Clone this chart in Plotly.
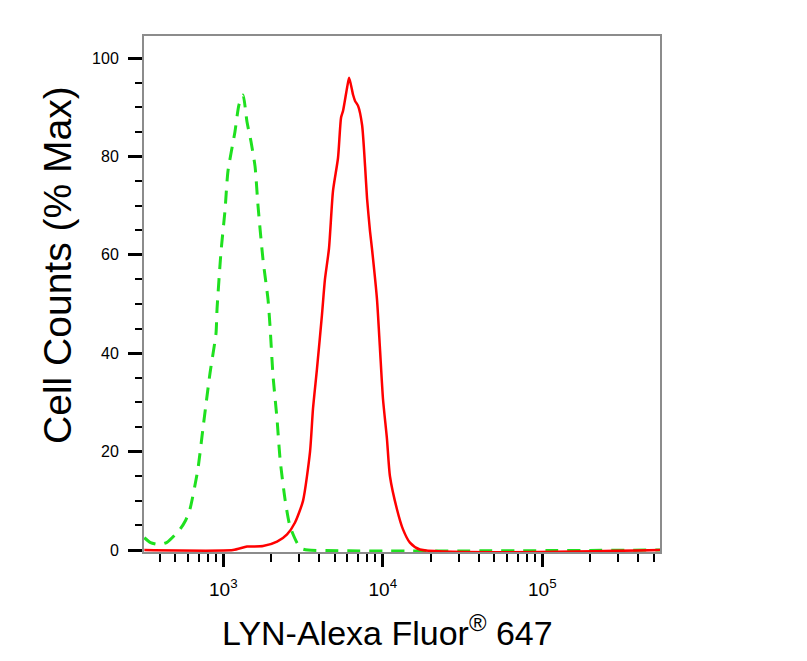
"""
Flow cytometry overlay: LYN-Alexa Fluor 647 staining vs isotype control.
"""

import plotly.graph_objects as go


# Isotype control (green dashed), fluorescence intensity and % of max.
CONTROL_X = [
    320, 350, 400, 445, 535, 580, 618, 693, 745, 826, 900, 914, 968, 1025,
    1070, 1183, 1254, 1330, 1409, 1493, 1582, 1651, 1775, 1907, 1963, 2051,
    2173, 2270, 2439, 2620, 2898, 3100, 3400, 550000,
]
CONTROL_Y = [
    2.5, 1.5, 1.1, 1.6, 4.2, 6.0, 8.3, 16.4, 24.6, 36.0, 44.0, 49.0, 60.7, 69.0,
    77.0, 85.0, 90.5, 92.5, 87.0, 83.0, 78.0, 70.0, 59.0, 51.0, 45.6, 35.4,
    26.6, 18.5, 10.3, 4.8, 1.5, 0.3, 0.0, 0.0,
]

# LYN stained sample (red).
LYN_X = [
    320, 1150, 1409, 1775, 2173, 2512, 2818, 3162, 3499, 3651, 3866, 4154,
    4339, 4600, 4874, 5240, 5474, 5637, 5973, 6152, 6518, 6702, 7001, 7418,
    7746, 7967, 8318, 8554, 9195, 9600, 10030, 10620, 11090, 12270, 13390,
    14800, 17100, 550000,
]
LYN_Y = [
    0.0, 0.0, 0.7, 0.8, 1.7, 3.2, 5.6, 10.0, 20.0, 28.7, 36.8, 47.7,
    55.0, 61.3, 73.0, 79.7, 87.9, 89.3, 94.0, 96.0, 92.5, 91.3, 90.3, 86.4,
    78.0, 71.5, 64.8, 61.3, 51.0, 41.0, 30.7, 22.6, 15.0, 8.3, 4.2,
    1.5, 0.1, 0.0,
]

# Tick labels.
X_TICKS = [1e3, 1e4, 1e5]
X_TICK_TEXT = ["10<sup>3</sup>", "10<sup>4</sup>", "10<sup>5</sup>"]
Y_TICKS = [0, 20, 40, 60, 80, 100]
Y_TICK_TEXT = ["0", "20", "40", "60", "80", "100"]

FONT = "Liberation Sans, Arial"


def main():
    fig = go.Figure()

    # Control goes first so the red line sits on top of it.
    fig.add_trace(
        go.Scatter(
            x=CONTROL_X,
            y=CONTROL_Y,
            mode="lines",
            line_color="#1fe01f",
            line_width=3,
            line_dash="13px,9px",
            line_shape="spline",
            line_smoothing=0.6,
        )
    )

    fig.add_trace(
        go.Scatter(
            x=LYN_X,
            y=LYN_Y,
            mode="lines",
            line_color="#ff0000",
            line_width=2.5,
            line_shape="spline",
            line_smoothing=0.6,
        )
    )

    # Minor ticks at 2..9 of every decade shown.
    minor_x = [m * 10**d for d in range(2, 6) for m in range(2, 10)]
    minor_x = [v for v in minor_x if 320 < v < 550000]

    fig.update_xaxes(
        type="log",
        range=[2.503, 5.738],
        tickvals=X_TICKS,
        ticktext=X_TICK_TEXT,
        ticks="outside",
        ticklen=13,
        tickwidth=3,
        tickcolor="#000000",
        tickfont=dict(family=FONT, size=19, color="#000000"),
        ticklabelstandoff=6,
        minor=dict(
            tickvals=minor_x,
            ticks="outside",
            ticklen=8,
            tickwidth=1.5,
            tickcolor="#000000",
            showgrid=False,
        ),
        showgrid=False,
        zeroline=False,
        showline=True,
        linecolor="#8c8c8c",
        linewidth=2,
        mirror=True,
    )

    fig.update_yaxes(
        range=[-0.4, 104.5],
        tickvals=Y_TICKS,
        ticktext=Y_TICK_TEXT,
        ticks="outside",
        ticklen=14,
        tickwidth=3,
        tickcolor="#000000",
        tickfont=dict(family=FONT, size=16, color="#000000"),
        ticklabelstandoff=6,
        minor=dict(
            dtick=5,
            ticks="outside",
            ticklen=7,
            tickwidth=1.5,
            tickcolor="#000000",
            showgrid=False,
        ),
        showgrid=False,
        zeroline=False,
        showline=True,
        linecolor="#8c8c8c",
        linewidth=2,
        mirror=True,
    )

    # The page adds an 8px margin, so the margins here are shifted to compensate.
    fig.update_layout(
        width=807,
        height=661,
        showlegend=False,
        plot_bgcolor="#ffffff",
        paper_bgcolor="#ffffff",
        margin=dict(l=136, r=155, t=28, b=117),
    )

    # Axis titles as annotations so they can sit exactly where the original has them.
    fig.add_annotation(
        x=0.472,
        y=-0.153,
        xref="paper",
        yref="paper",
        xanchor="center",
        yanchor="middle",
        text="LYN-Alexa Fluor<sup>®</sup> 647",
        showarrow=False,
        font=dict(family=FONT, size=34, color="#000000"),
    )

    fig.add_annotation(
        x=-0.169,
        y=0.556,
        xref="paper",
        yref="paper",
        xanchor="center",
        yanchor="middle",
        text="Cell Counts (% Max)",
        textangle=-90,
        showarrow=False,
        font=dict(family=FONT, size=39, color="#000000"),
    )

    fig.write_html("out.html")


if __name__ == "__main__":
    main()
